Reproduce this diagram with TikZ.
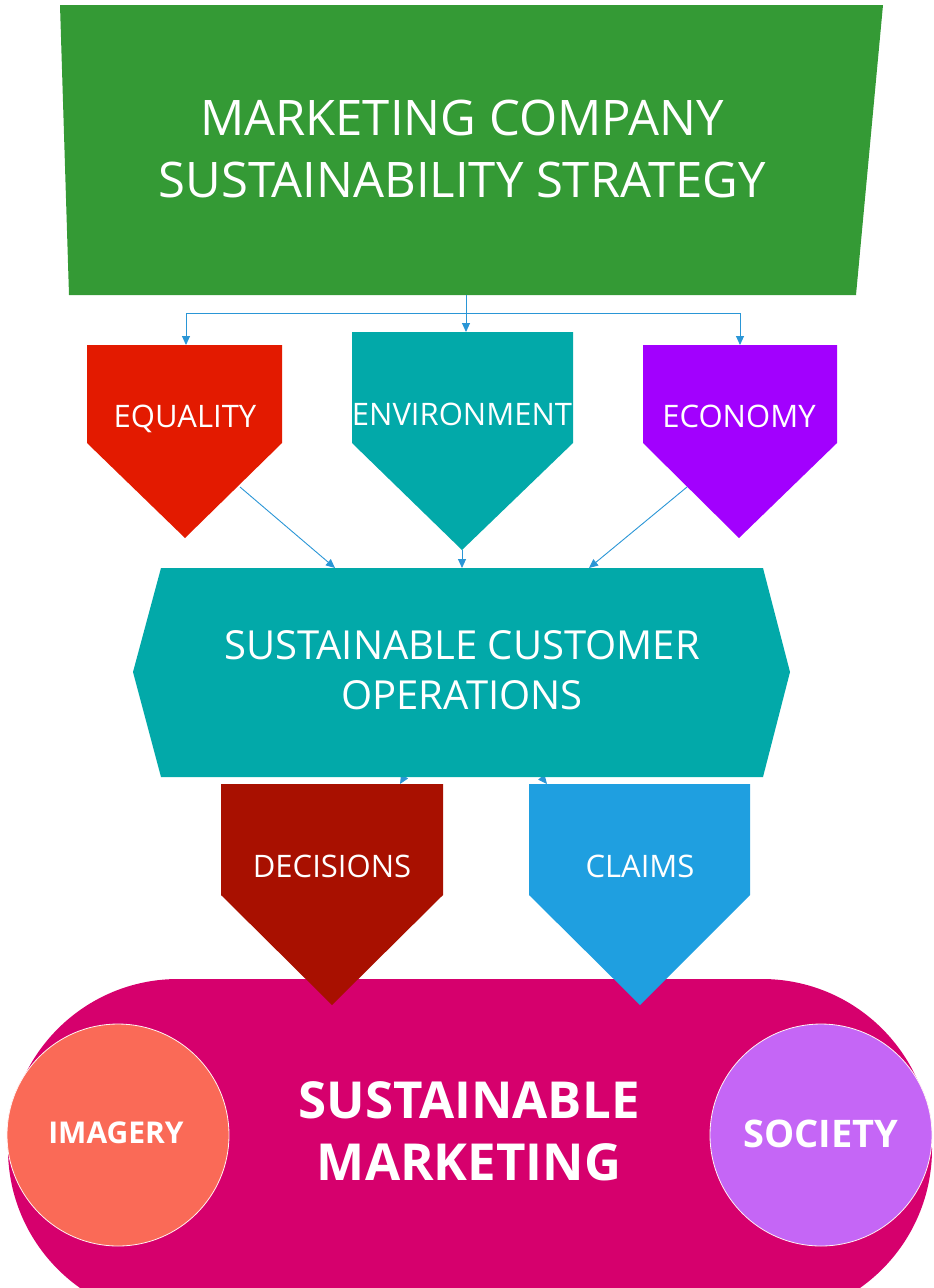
\documentclass[tikz,border=0pt]{standalone}
\usepackage{fontspec}
\setmainfont{Open Sans}
\usetikzlibrary{arrows.meta}
\definecolor{cgreen}{HTML}{349A35}
\definecolor{cred}{HTML}{E31A00}
\definecolor{cteal}{HTML}{02A9A9}
\definecolor{cpurple}{HTML}{A200FE}
\definecolor{cdark}{HTML}{A81000}
\definecolor{cblue}{HTML}{1F9FE0}
\definecolor{cpink}{HTML}{D6006D}
\definecolor{ccoral}{HTML}{FA6A57}
\definecolor{clilac}{HTML}{C566F6}
\definecolor{cline}{HTML}{2A96D6}
\newcommand\fTitle{\fontsize{49}{60}\selectfont}
\newcommand\fHex{\fontsize{40}{48}\selectfont}
\newcommand\fPent{\fontsize{31}{38}\selectfont}
\newcommand\fBig{\fontsize{51}{60}\selectfont\bfseries}
\begin{document}
\begin{tikzpicture}[x=1pt,y=-1pt,
  lbl/.style={text=white, inner sep=0pt, anchor=base},
  conn/.style={draw=cline, line width=0.9pt, -{Triangle[length=9pt,width=8pt]}},
  wire/.style={draw=cline, line width=0.9pt},
  disc/.style={circle, draw=white!80!pink, line width=0.8pt, minimum size=222pt, inner sep=0pt}]
\useasboundingbox (0,0) rectangle (934,1288);
\clip (0,0) rectangle (934,1288);

% top trapezoid
\fill[cgreen] (60,5) -- (883,5) -- (856,295) -- (69,295) -- cycle;
\node[lbl, font=\fTitle] (title1) at (462,135) {MARKETING COMPANY};
\node[lbl, font=\fTitle] (title2) at (462,197) {SUSTAINABILITY STRATEGY};

% connection points
\coordinate (gS) at (466,295);
\coordinate (split) at (466,313);
\coordinate (splitL) at (186,313);
\coordinate (splitR) at (740,313);
\coordinate (eqT) at (186,345);
\coordinate (enT) at (466,332);
\coordinate (ecT) at (740,345);

\draw[wire] (gS) -- (split);
\draw[wire] (splitL) -- (splitR);
\draw[conn] (split) -- (enT);
\draw[conn] (splitL) -- (eqT);
\draw[conn] (splitR) -- (ecT);

% pentagons
\fill[cred] (87,345) -- (282,345) -- (282,443) -- (185,538) -- (87,443) -- cycle;
\fill[cteal] (352,332) -- (573,332) -- (573,443) -- (462,550) -- (352,443) -- cycle;
\fill[cpurple] (643,345) -- (837,345) -- (837,443) -- (739,538) -- (643,443) -- cycle;
\node[lbl, font=\fPent] (eq) at (185,427) {EQUALITY};
\node[lbl, font=\fPent] (en) at (462,425) {ENVIRONMENT};
\node[lbl, font=\fPent] (ec) at (739,427) {ECONOMY};

\coordinate (eqE) at (240,487);
\coordinate (enB) at (462,550);
\coordinate (ecE) at (687,487);
\coordinate (hxL) at (335,568);
\coordinate (hxM) at (462,568);
\coordinate (hxR) at (589,568);
\draw[conn] (eqE) -- (hxL);
\draw[conn] (enB) -- (hxM);
\draw[conn] (ecE) -- (hxR);

% arrows from hexagon to decisions / claims (mostly hidden)
\coordinate (hxC) at (462,680);
\coordinate (decT) at (400,784);
\coordinate (claT) at (547,784);
\draw[conn] (hxC) -- (decT);
\draw[conn] (hxC) -- (claT);

% hexagon
\fill[cteal] (161,568) -- (763,568) -- (790,672) -- (763,777) -- (161,777) -- (133,672) -- cycle;
\node[lbl, font=\fHex] (hex1) at (462,659) {SUSTAINABLE CUSTOMER};
\node[lbl, font=\fHex] (hex2) at (462,709) {OPERATIONS};

% stadium
\fill[cpink] (178,979) -- (762,979) arc[start angle=90, end angle=-90, radius=170pt]
  -- (178,1319) arc[start angle=-90, end angle=-270, radius=170pt] -- cycle;

% decisions / claims
\fill[cdark] (221,784) -- (443,784) -- (443,895) -- (332,1005) -- (221,895) -- cycle;
\fill[cblue] (529,784) -- (750,784) -- (750,895) -- (640,1005) -- (529,895) -- cycle;
\node[lbl, font=\fPent] (dec) at (332,877) {DECISIONS};
\node[lbl, font=\fPent] (cla) at (640,877) {CLAIMS};

% circles
\node[disc, fill=ccoral] (img) at (118,1135) {};
\node[disc, fill=clilac] (soc) at (821,1135) {};
\node[lbl, font=\fontsize{30}{36}\selectfont\bfseries] (imgt) at (116,1143) {IMAGERY};
\node[lbl, font=\fontsize{38}{46}\selectfont\bfseries] (soct) at (821,1147) {SOCIETY};
\node[lbl, font=\fBig] (sm1) at (469,1118) {SUSTAINABLE};
\node[lbl, font=\fBig] (sm2) at (469,1180) {MARKETING};
\end{tikzpicture}
\end{document}
